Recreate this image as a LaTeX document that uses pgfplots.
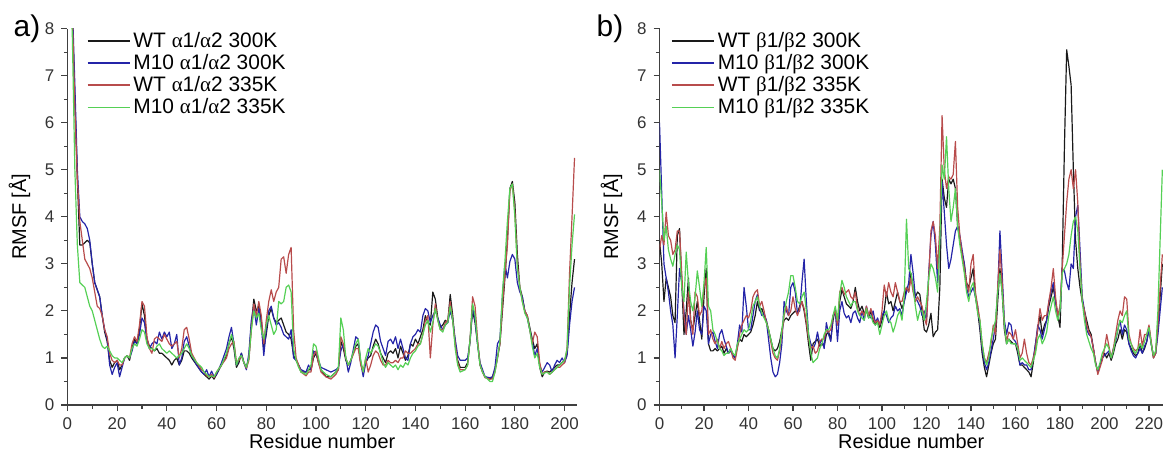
\documentclass[border=0pt]{standalone}
\usepackage{pgfplots}
\pgfplotsset{compat=1.18}
\usepackage{pgfplotstable}
\usepackage{fontspec}
\setmainfont{Liberation Sans}
\newfontfamily\grk{Liberation Serif}
\definecolor{cK}{HTML}{1A1A1A}
\definecolor{cB}{HTML}{2424A8}
\definecolor{cR}{HTML}{B84C4C}
\definecolor{cG}{HTML}{55D055}
\definecolor{axc}{HTML}{404040}

\pgfplotstableread{
x K B R G
0 10 10 10 10
1 9.5 9.5 9.5 9.5
2 8.2 8.5 8.3 7.8
3 6.5 6.8 6.3 5.0
4 4.8 5.0 4.8 3.4
5 3.4 4.0 3.9 2.6
6 3.4 3.9 3.5 2.55
7 3.45 3.85 3.1 2.5
8 3.5 3.75 3.0 2.3
9 3.45 3.5 2.9 2.1
10 3.0 3.0 2.7 2.0
11 2.6 2.6 2.4 1.8
12 2.45 2.45 2.1 1.6
13 2.3 2.3 2.05 1.4
14 1.9 1.9 1.9 1.25
15 1.55 1.6 1.6 1.2
16 1.35 1.4 1.45 1.25
17 0.95 0.85 1.1 1.15
18 0.8 0.65 0.95 1.05
19 0.9 0.8 0.9 1.0
20 0.95 0.9 0.95 1.0
21 0.75 0.6 0.85 0.95
22 0.85 0.8 0.85 0.9
23 1.0 1.0 1.0 1.0
24 1.05 1.05 1.05 1.05
25 0.95 1.0 1.0 1.0
26 1.2 1.15 1.3 1.2
27 1.4 1.35 1.45 1.3
28 1.3 1.3 1.35 1.25
29 1.6 1.5 1.7 1.4
30 2.15 1.85 2.2 1.6
31 1.9 1.75 2.1 1.55
32 1.4 1.35 1.45 1.3
33 1.25 1.2 1.2 1.2
34 1.2 1.3 1.1 1.2
35 1.15 1.35 1.4 1.15
36 1.2 1.3 1.45 1.25
37 1.1 1.55 1.4 1.3
38 1.1 1.4 1.35 1.2
39 1.05 1.55 1.5 1.15
40 1.0 1.45 1.4 1.1
41 0.95 1.55 1.3 1.15
42 0.85 1.2 1.25 1.1
43 0.95 1.3 1.3 1.05
44 1.0 1.5 1.35 1.0
45 0.85 0.85 1.0 1.05
46 0.95 1.0 1.2 1.1
47 1.15 1.35 1.6 1.2
48 1.15 1.45 1.65 1.3
49 1.1 1.25 1.4 1.2
50 1.0 1.05 1.1 1.05
52 0.85 0.85 0.9 0.9
54 0.7 0.7 0.75 0.8
55 0.65 0.65 0.7 0.7
56 0.6 0.75 0.62 0.65
57 0.55 0.6 0.6 0.6
58 0.62 0.72 0.65 0.62
59 0.55 0.6 0.58 0.6
60 0.65 0.65 0.7 0.7
62 0.85 0.9 0.85 0.85
64 1.05 1.2 1.0 1.1
65 1.3 1.45 1.2 1.3
66 1.45 1.65 1.3 1.5
67 1.2 1.3 1.35 1.3
68 0.8 0.85 0.9 0.85
69 0.9 0.95 0.95 1.0
70 1.1 1.1 1.05 1.05
71 0.9 0.9 0.9 0.9
72 0.8 0.75 0.78 0.8
73 1.0 1.1 0.95 1.0
74 1.7 1.8 1.6 1.6
75 2.25 2.1 2.15 2.0
76 2.0 1.7 1.9 1.85
77 2.1 2.05 2.2 1.95
78 1.8 1.7 1.9 1.6
79 1.2 1.05 1.3 1.4
80 1.5 1.6 1.8 1.7
81 1.9 2.0 2.2 1.9
82 2.05 2.1 2.45 1.7
83 1.85 1.85 2.2 1.5
84 1.75 1.7 2.4 1.6
85 1.8 1.75 2.5 2.2
86 1.85 1.65 3.1 2.15
87 1.7 1.5 3.15 2.2
88 1.55 1.45 2.8 2.5
89 1.5 1.4 3.2 2.55
90 1.4 1.6 3.35 2.4
91 1.05 1.0 1.6 1.2
92 0.95 0.95 1.0 0.95
93 0.85 0.85 0.85 0.8
94 0.7 0.75 0.7 0.7
96 0.7 0.7 0.62 0.65
97 0.75 0.85 0.7 0.75
98 0.75 0.75 0.7 0.85
99 1.0 1.15 1.05 1.3
100 1.1 1.1 1.15 1.25
101 0.9 0.95 0.9 1.0
102 0.75 0.8 0.7 0.75
104 0.6 0.75 0.6 0.65
106 0.6 0.7 0.55 0.6
108 0.7 0.75 0.65 0.7
109 0.75 0.8 0.75 0.8
110 1.35 1.15 1.45 1.85
111 1.2 1.3 1.3 1.6
112 0.95 1.0 1.0 1.0
113 0.85 0.7 0.85 0.85
114 0.95 0.9 0.95 0.95
116 1.25 1.45 1.2 1.3
117 1.3 1.4 1.2 1.4
118 0.9 0.9 0.85 0.95
119 0.7 0.6 0.7 0.7
120 0.9 0.9 1.0 1.0
121 1.0 1.05 0.7 1.2
122 1.05 1.3 0.85 1.1
123 1.25 1.55 1.05 1.2
124 1.4 1.7 1.15 1.3
125 1.3 1.65 1.1 1.25
126 1.1 1.35 0.95 1.1
127 1.0 1.2 0.85 0.9
128 0.9 1.05 0.85 0.8
129 1.1 1.35 0.95 0.9
130 1.15 1.4 0.9 0.85
131 1.1 1.3 0.9 0.8
132 1.2 1.45 0.95 0.85
133 1.0 1.2 0.9 0.75
134 1.25 1.4 1.0 0.85
135 1.1 1.2 1.0 0.8
136 0.95 1.0 1.15 0.9
137 1.05 0.95 1.1 0.85
138 1.3 1.3 1.1 1.0
139 1.25 1.45 1.15 1.1
140 1.4 1.5 1.2 1.15
141 1.3 1.6 1.3 1.25
142 1.45 1.55 1.3 1.3
143 1.6 1.9 1.5 1.5
144 1.9 2.05 1.8 1.7
145 1.75 2.0 1.9 1.8
146 1.7 1.75 1.0 1.55
147 2.4 1.9 1.7 1.75
148 2.25 2.0 2.15 2.05
149 1.85 1.85 1.8 1.8
150 1.65 1.7 1.6 1.6
151 1.7 1.6 1.6 1.55
152 1.8 1.7 1.75 1.7
153 1.75 1.75 1.8 1.75
154 2.35 2.0 2.2 2.1
155 1.9 1.8 1.8 1.8
156 1.3 1.4 1.3 1.2
157 0.95 1.05 0.9 0.85
158 0.8 0.95 0.75 0.7
160 0.8 0.95 0.75 0.75
161 0.9 1.0 0.85 0.85
162 1.4 1.35 1.4 1.4
163 2.0 2.1 2.3 2.15
164 1.75 1.8 2.1 1.9
165 1.3 1.3 1.4 1.3
166 0.85 0.9 0.85 0.85
167 0.7 0.75 0.7 0.7
168 0.6 0.6 0.58 0.6
170 0.55 0.58 0.55 0.5
171 0.6 0.6 0.55 0.5
172 0.75 0.8 0.7 0.7
173 1.0 1.3 1.0 1.0
174 1.3 1.4 1.3 1.35
175 2.0 2.3 2.1 2.4
176 2.7 3.0 2.8 3.05
177 3.5 2.7 3.4 3.9
178 4.6 3.05 4.55 4.6
179 4.75 3.2 4.7 4.7
180 4.3 3.1 4.1 4.0
181 3.2 2.6 3.0 2.9
182 2.5 2.4 2.5 2.5
183 2.3 2.3 2.2 2.2
184 2.0 2.0 2.0 1.95
185 1.9 1.85 1.9 1.85
186 1.65 1.6 1.6 1.6
187 1.4 1.35 1.3 1.25
188 1.2 1.05 1.55 1.0
189 1.3 1.2 1.45 1.1
190 0.8 0.85 0.9 0.8
191 0.6 0.7 0.65 0.65
192 0.7 0.8 0.7 0.68
193 0.72 0.9 0.7 0.7
194 0.7 0.85 0.65 0.65
195 0.75 0.7 0.7 0.7
196 0.8 0.85 0.75 0.75
197 0.85 0.95 0.8 0.8
198 0.85 0.9 0.8 0.85
199 0.9 1.0 0.85 0.9
200 0.95 0.9 0.9 0.95
201 1.1 1.05 1.2 1.2
202 1.9 1.7 2.8 2.5
203 2.6 2.2 4.0 3.4
204 3.1 2.5 5.25 4.05
}\dataA

\pgfplotstableread{
x K B R G
0 3.5 6.0 3.3 5.0
1 3.0 4.5 3.6 4.3
2 2.2 3.0 3.4 3.5
3 2.7 2.7 4.1 3.8
4 2.5 2.4 3.6 3.3
5 2.3 2.0 3.5 3.1
6 1.9 1.7 3.2 2.95
7 1.75 1.0 3.3 3.2
8 3.6 1.9 3.7 3.4
9 3.75 2.9 3.7 3.3
10 2.6 2.6 2.8 2.5
11 1.5 2.0 1.9 2.2
12 2.0 1.5 1.5 3.25
13 2.7 1.9 2.4 2.6
14 1.8 1.6 1.8 2.2
15 1.6 1.25 1.5 2.0
16 1.9 1.55 2.4 2.3
17 2.2 2.0 2.3 2.85
18 1.8 1.6 1.9 2.5
19 1.4 1.5 2.0 2.1
20 2.3 2.1 2.5 2.6
21 2.9 2.0 2.7 3.35
22 1.3 1.3 1.5 2.1
23 1.15 1.5 1.6 2.0
24 1.15 1.55 1.4 1.6
25 1.2 1.35 1.3 1.5
26 1.15 1.2 1.4 1.35
27 1.2 1.5 1.2 1.2
28 1.25 1.6 1.35 1.15
29 1.1 1.4 1.2 1.05
30 1.2 1.25 1.3 1.1
31 1.1 1.1 1.35 1.1
32 1.2 1.15 1.2 1.2
33 1.05 1.05 1.0 1.1
34 1.0 1.0 0.95 1.05
35 1.25 1.3 1.2 1.3
36 1.4 1.7 1.5 1.4
37 1.35 1.55 1.7 1.5
38 1.5 2.5 1.8 1.6
39 1.45 2.1 1.9 1.55
40 1.5 1.6 1.85 1.6
41 1.55 1.6 2.0 1.8
42 1.7 1.9 2.3 2.1
43 1.9 2.2 2.4 2.2
44 2.2 2.35 2.45 2.3
45 2.0 2.05 2.1 2.1
46 2.05 1.9 2.2 1.95
47 1.9 1.95 2.0 1.85
48 1.8 1.8 1.75 1.75
49 1.6 1.4 1.6 1.6
50 1.4 1.0 1.35 1.4
51 1.2 0.7 1.1 1.2
52 1.15 0.6 1.0 1.05
53 1.2 0.65 0.95 1.0
54 1.35 0.9 1.15 1.2
55 1.6 1.3 1.5 1.6
56 1.8 2.2 1.9 1.95
57 1.85 2.0 2.1 2.2
58 1.8 1.9 1.9 2.4
59 1.9 2.5 2.0 2.75
60 1.95 2.6 2.3 2.75
61 2.0 2.4 2.05 2.5
62 1.95 1.95 1.9 2.2
63 2.1 2.0 2.05 2.15
64 2.2 2.6 2.2 2.3
65 2.0 3.1 2.05 2.4
66 1.7 2.2 1.75 2.0
67 1.3 1.5 1.4 1.5
68 0.95 1.3 1.2 1.1
69 1.3 1.2 1.25 0.9
70 1.35 1.3 1.1 0.95
71 1.4 1.55 1.15 1.0
72 1.25 1.3 1.35 1.2
73 1.3 1.4 1.4 1.3
74 1.25 1.2 1.4 1.5
75 1.5 1.75 1.6 1.6
76 1.55 1.5 1.55 1.6
77 1.4 1.35 1.6 1.7
78 1.8 1.9 1.9 1.9
79 2.05 2.0 2.0 2.1
80 1.7 1.35 1.7 1.8
81 2.2 2.0 2.4 2.35
82 2.45 2.2 2.5 2.65
83 2.3 1.95 2.35 2.5
84 2.15 1.85 2.4 2.3
85 2.1 1.9 2.45 2.2
86 2.05 1.75 2.3 2.1
87 2.2 1.95 2.25 2.2
88 2.5 2.0 2.4 2.2
89 2.2 1.85 2.05 2.0
90 2.0 1.75 1.9 1.9
91 2.1 2.0 2.0 1.85
92 1.95 1.8 1.9 1.8
93 2.0 2.1 2.1 2.05
94 1.85 1.9 1.9 1.85
95 2.0 1.85 2.05 1.9
96 1.8 2.0 1.85 1.75
97 1.7 1.75 1.75 1.7
98 1.8 1.85 1.8 1.75
99 1.65 1.7 1.7 1.5
100 1.8 1.9 2.0 1.7
101 2.0 2.0 2.55 1.9
102 2.4 1.9 2.3 2.0
103 2.15 1.75 2.6 1.8
104 2.2 1.85 2.4 1.75
105 2.0 1.9 2.3 1.55
106 2.2 2.1 2.6 1.7
107 2.4 2.0 2.4 1.9
108 2.2 2.05 2.2 2.0
109 2.05 1.9 2.2 1.8
110 2.2 2.2 2.4 2.3
111 2.5 2.4 2.5 3.95
112 2.4 2.6 2.4 2.9
113 2.8 3.2 2.7 2.8
114 2.5 2.8 2.4 2.5
115 2.3 2.3 2.2 2.1
116 2.4 2.2 2.3 1.8
117 2.35 2.1 2.2 2.0
118 2.0 1.9 2.1 2.0
119 1.6 2.0 1.85 1.8
120 1.55 1.8 1.7 2.2
121 1.7 2.8 2.7 2.7
122 1.95 3.6 3.7 3.0
123 1.45 3.9 3.9 2.9
124 1.55 3.4 3.6 2.7
125 1.6 2.6 2.9 2.4
126 2.5 3.5 3.8 3.5
127 4.8 4.75 6.15 5.1
128 4.4 4.1 5.0 4.8
129 4.2 3.4 4.6 5.7
130 4.8 2.9 4.85 4.6
131 4.7 3.1 4.8 3.9
132 4.8 3.4 4.9 4.2
133 4.6 3.7 5.6 4.6
134 3.8 3.8 4.2 3.8
135 3.5 3.6 3.6 3.4
136 3.2 3.3 3.2 3.1
137 3.0 3.0 2.9 2.8
138 2.6 2.5 2.6 2.4
139 2.5 2.3 2.4 2.2
140 2.7 2.4 3.0 2.5
141 2.9 2.5 3.2 2.6
142 2.3 2.3 2.4 2.3
143 2.0 2.1 2.1 1.95
144 1.6 1.7 1.8 1.8
145 1.1 1.2 1.3 1.3
146 0.8 0.9 1.0 1.0
147 0.6 0.75 0.9 0.85
148 0.85 0.9 1.1 1.0
149 1.1 1.15 1.3 1.4
150 1.3 1.4 1.7 1.6
151 1.4 1.7 1.5 1.8
152 2.2 2.4 2.5 2.4
153 2.9 3.7 3.3 2.8
154 2.4 2.8 2.6 2.4
155 1.6 1.8 1.7 1.7
156 1.3 1.5 1.35 1.3
157 1.4 1.75 1.55 1.4
158 1.35 1.7 1.5 1.3
159 1.3 1.4 1.4 1.3
160 1.3 1.35 1.6 1.3
161 1.1 1.2 1.3 1.2
162 0.85 0.85 1.0 0.95
163 0.85 0.9 1.1 1.0
164 0.8 0.85 1.4 0.95
165 0.75 0.85 1.1 0.9
166 0.7 0.75 0.9 0.85
167 0.6 0.75 0.85 0.8
168 0.9 1.0 1.0 0.95
169 1.3 1.3 1.2 1.1
170 1.6 1.7 1.65 1.4
171 1.9 1.6 2.05 1.5
172 1.5 1.4 1.8 1.3
173 1.7 1.6 1.9 1.4
174 1.8 1.8 1.9 1.55
175 2.1 2.2 2.2 1.9
176 2.3 2.4 2.5 2.1
177 2.5 2.6 2.9 2.3
178 2.2 2.2 2.3 2.0
179 1.9 1.9 1.9 1.8
180 1.65 2.0 2.1 2.0
181 3.0 2.9 2.9 2.8
182 5.5 2.85 3.6 2.9
183 7.55 2.6 4.3 3.0
184 7.2 2.45 4.8 3.2
185 6.8 3.0 5.0 3.6
186 5.0 2.9 4.6 3.9
187 3.5 4.0 5.0 4.0
188 2.9 4.25 4.3 3.7
189 2.5 3.3 3.0 2.9
190 2.2 2.3 2.2 2.2
191 2.0 2.0 2.0 1.8
192 1.8 1.6 1.7 1.5
193 1.6 1.5 1.55 1.35
194 1.5 1.45 1.45 1.2
195 1.2 1.2 1.2 1.1
196 0.9 0.9 0.9 0.85
197 0.7 0.7 0.65 0.75
198 0.85 0.85 0.8 0.9
199 1.0 1.0 0.95 1.1
200 1.1 1.05 1.2 1.2
201 1.0 1.1 1.5 1.3
202 1.1 1.15 1.25 1.2
203 0.95 1.0 1.0 1.0
204 1.1 1.2 1.2 1.15
205 1.3 1.35 1.5 1.4
206 1.4 1.6 1.8 1.6
207 1.6 1.8 2.0 1.8
208 1.4 1.5 1.9 1.75
209 1.6 1.7 2.3 1.9
210 1.55 1.6 2.25 2.0
211 1.3 1.3 1.5 1.4
212 1.2 1.15 1.3 1.3
213 1.1 1.05 1.2 1.15
214 1.05 1.0 1.15 1.1
215 1.1 1.1 1.2 1.2
216 1.3 1.2 1.6 1.3
217 1.1 1.1 1.25 1.2
218 1.2 1.25 1.5 1.35
219 1.35 1.35 1.5 1.5
220 1.65 1.6 1.7 1.65
221 1.3 1.3 1.35 1.3
222 1.0 1.05 1.0 1.05
223 1.1 1.1 1.1 1.15
224 1.6 1.5 1.7 2.0
225 2.3 2.0 2.5 3.5
226 3.0 2.5 3.2 5.0
}\dataB

\pgfplotsset{rmsf/.style={
  scale only axis, height=188.2bp,
  axis lines=left,
  axis line style={-, draw=axc, line width=0.6pt},
  xmin=0, ymin=0, ymax=8,
  ytick={0,1,...,8}, xtick distance=20,
  minor x tick num=1, minor y tick num=1,
  tick align=outside, major tick length=3bp, minor tick length=1.8bp,
  tick style={axc, line width=0.6pt},
  ticklabel style={font=\fontsize{8.5}{10}\selectfont, text=black!80},
  /pgf/number format/assume math mode=true,
  xlabel={Residue number}, ylabel={RMSF [Å]},
  label style={font=\fontsize{8.5}{10}\selectfont, text=black!85},
  every axis x label/.style={at={(rel axis cs:0.5,0)}, yshift=-18bp, anchor=center},
  every axis y label/.style={at={(rel axis cs:0,0.5)}, xshift=-24bp, rotate=90, anchor=center},
  legend style={draw=none, fill=none, font=\fontsize{10.5}{12}\selectfont,
    anchor=north west, row sep=-1.0pt, inner sep=0pt, nodes={inner sep=1.5pt}},
  legend cell align=left,
  legend image code/.code={\draw[line width=0.9pt] (0bp,0bp) -- (21bp,0bp);},
  every axis plot/.append style={line width=0.6pt, line join=round},
}}

\begin{document}
\begin{tikzpicture}
\useasboundingbox (0,0) rectangle (581.5bp,231.5bp);
\begin{axis}[rmsf, at={(33.7bp,29bp)}, anchor=south west,
  width=254.8bp, xmax=205,
  legend style={at={(rel axis cs:0.037,1.0)}}]
\addplot[cK] table[x=x,y=K] {\dataA};
\addplot[cB] table[x=x,y=B] {\dataA};
\addplot[cR] table[x=x,y=R] {\dataA};
\addplot[cG] table[x=x,y=G] {\dataA};
\legend{WT {\grk α}1/{\grk α}2 300K, M10 {\grk α}1/{\grk α}2 300K, WT {\grk α}1/{\grk α}2 335K, M10 {\grk α}1/{\grk α}2 335K}
\end{axis}
\begin{axis}[rmsf, at={(329.75bp,29bp)}, anchor=south west,
  width=251.75bp, xmax=226.3,
  legend style={at={(rel axis cs:0.022,1.0)}}]
\addplot[cK] table[x=x,y=K] {\dataB};
\addplot[cB] table[x=x,y=B] {\dataB};
\addplot[cR] table[x=x,y=R] {\dataB};
\addplot[cG] table[x=x,y=G] {\dataB};
\legend{WT {\grk β}1/{\grk β}2 300K, M10 {\grk β}1/{\grk β}2 300K, WT {\grk β}1/{\grk β}2 335K, M10 {\grk β}1/{\grk β}2 335K}
\end{axis}
\node[font=\fontsize{15}{17}\selectfont] at (13.5bp,217bp) {a)};
\node[font=\fontsize{15}{17}\selectfont] at (305bp,217bp) {b)};
\end{tikzpicture}
\end{document}
